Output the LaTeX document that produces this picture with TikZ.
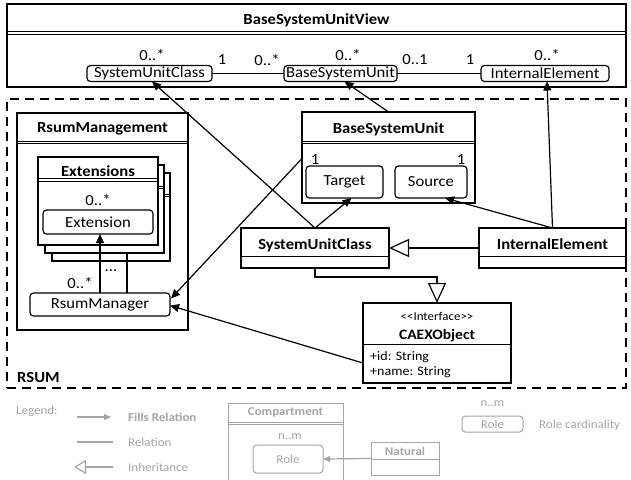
\documentclass[tikz,border=0pt]{standalone}
\usepackage{fontspec}
\setmainfont{Carlito}[FakeStretch=1.08]
\usetikzlibrary{arrows.meta,fit,calc}
\definecolor{lg}{RGB}{165,165,165}
\begin{document}
\begin{tikzpicture}[x=1pt,y=-1pt,
  font=\fontsize{15.4}{18}\selectfont,
  ln/.style={line width=1.2pt},
  sepl/.style={line width=1pt},
  box/.style={draw, line width=1.3pt, fill=white, inner sep=0pt, outer sep=0pt},
  rsumbox/.style={draw, line width=2pt, dash pattern=on 9pt off 6pt, inner sep=0pt, outer sep=0pt},
  role/.style={draw, rounded corners=3.5pt, line width=1.2pt, fill=white, inner sep=0pt, outer sep=0pt},
  lbl/.style={inner sep=0pt},
  ttl/.style={font=\fontsize{15.4}{18}\selectfont\bfseries, inner sep=0pt, text depth=0pt},
  fills/.style={line width=1.2pt, -{Triangle[length=9pt,width=8pt]}},
  inh/.style={line width=1.2pt, -{Triangle[open,length=20pt,width=18pt,fill=white]}},
  lgt/.style={inner sep=0pt, text=lg, font=\fontsize{12}{14}\selectfont, anchor=west},
  lgb/.style={lgt, font=\fontsize{12}{14}\selectfont\bfseries},
  lgbox/.style={draw=lg, line width=1pt, fill=white, inner sep=0pt, outer sep=0pt},
  lgrole/.style={draw=lg, rounded corners=3.5pt, line width=1pt, fill=white, inner sep=0pt, outer sep=0pt, text=lg, font=\fontsize{12}{14}\selectfont},
]
\useasboundingbox (0,0) rectangle (631,479);
\clip (0,0) rectangle (631,479);
\fill[white] (0,0) rectangle (631,479);

% ---------- BaseSystemUnitView ----------
\node[box, fit={(7,4) (626,87)}] (view) {};
\node[ttl] (viewt) at (316.5,19) {BaseSystemUnitView};
\draw[sepl] (7,31.7) -- (626,31.7);
\draw[sepl] (7,34.5) -- (626,34.5);
\node[role, minimum width=125pt, minimum height=16pt] (vsuc) at (149.5,73.5) {SystemUnitClass};
\node[role, minimum width=113pt, minimum height=16pt] (vbsu) at (340.5,73.5) {BaseSystemUnit};
\node[role, minimum width=128pt, minimum height=16pt] (vie) at (545,73.5) {InternalElement};
\node[lbl] (l1) at (152,55) {0..*};
\node[lbl] (l2) at (222,60) {1};
\node[lbl] (l3) at (267,60) {0..*};
\node[lbl] (l4) at (348,55) {0..*};
\node[lbl] (l5) at (415,60) {0..1};
\node[lbl] (l6) at (470,60) {1};
\node[lbl] (l7) at (547,55) {0..*};
\draw[ln] (vsuc.east) -- (vbsu.west);
\draw[ln] (vbsu.east) -- (vie.west);

% ---------- RSUM ----------
\node[rsumbox, fit={(7,99) (626,388)}] (rsum) {};
\node[ttl, anchor=west] (rsuml) at (17,377) {RSUM};

% RsumManagement
\node[box, fit={(17,113) (188,330)}] (rmg) {};
\node[ttl] (rmgt) at (102.5,128) {RsumManagement};
\draw[sepl] (17,141) -- (188,141);
\draw[sepl] (17,143.8) -- (188,143.8);

% Extensions stack
\node[box, fit={(52,173) (170,261)}] (ext3) {};
\draw[sepl] (52,194) -- (170,194);
\draw[sepl] (52,196.8) -- (170,196.8);
\node[box, fit={(45,165) (164,253)}] (ext2) {};
\draw[sepl] (45,186) -- (164,186);
\draw[sepl] (45,188.8) -- (164,188.8);
\node[box, fit={(38,157) (158,245)}] (ext1) {};
\draw[sepl] (38,178.3) -- (158,178.3);
\draw[sepl] (38,181.1) -- (158,181.1);
\node[ttl] (ext1t) at (98,171) {Extensions};
\node[lbl] (l8) at (98,200) {0..*};
\node[role, minimum width=110pt, minimum height=24pt] (extn) at (98,222) {Extension};

\node[role, minimum width=140pt, minimum height=23pt] (rm) at (100,304.5) {RsumManager};
\node[lbl] (l9) at (80,283) {0..*};
\node[lbl] (l10) at (111,271) {...};
\draw[fills] (rm.north) -- (rm.north |- extn.south);
\coordinate (mx) at ($(rm.north)+(27,0)$);
\draw[ln] (mx) -- (mx |- ext2.south);

% BaseSystemUnit (RSUM)
\node[box, fit={(302,112) (475,203)}] (rbsu) {};
\node[ttl] (rbsut) at (388.5,128) {BaseSystemUnit};
\draw[sepl] (302,141) -- (475,141);
\draw[sepl] (302,143.8) -- (475,143.8);
\node[lbl] (l11) at (315,160) {1};
\node[lbl] (l12) at (461,160) {1};
\node[role, minimum width=77pt, minimum height=32pt] (target) at (344.5,182) {Target};
\node[role, minimum width=72pt, minimum height=32pt] (source) at (431,182) {Source};

% SystemUnitClass (RSUM)
\node[box, fit={(241,228) (389,268)}] (rsuc) {};
\node[ttl] (rsuct) at (315,244) {SystemUnitClass};
\draw[sepl] (241,256) -- (389,256);

% InternalElement (RSUM)
\node[box, fit={(479,228) (626,268)}] (rie) {};
\node[ttl] (riet) at (552.5,244) {InternalElement};
\draw[sepl] (479,256) -- (626,256);

% CAEXObject
\node[box, fit={(363,303) (511,383)}] (caex) {};
\node[lbl, font=\fontsize{12}{14}\selectfont] (caexs) at (437,316) {<\kern0pt<Interface>\kern0pt>};
\node[ttl, font=\fontsize{14.4}{17}\selectfont\bfseries] (caext) at (437,334) {CAEXObject};
\draw[sepl] (363,344) -- (511,344);
\node[lbl, anchor=west, font=\fontsize{13}{15}\selectfont] (attr1) at (370,357) {+id: String};
\node[lbl, anchor=west, font=\fontsize{13}{15}\selectfont] (attr2) at (370,372) {+name: String};

% ---------- connectors ----------
\draw[fills] (rsuc.north) -- ($(vsuc.south)+(2.5,0)$);
\draw[fills] (rsuc.north) -- ($(target.south)+(7,0)$);
\draw[fills] (rbsu.north) -- ($(vbsu.south)+(4,0)$);
\draw[fills] (rie.north) -- ($(vie.south)+(2,0)$);
\draw[fills] (rie.north) -- ($(source.south)+(14,0)$);
\draw[inh] (rie.west) -- (rsuc.east);
\draw[inh] (rsuc.south) -- ++(0,9) -| (caex.north);
\draw[fills] ($(rbsu.west)+(0,1)$) -- ($(rm.east)+(1,-6)$);
\draw[fills] ($(caex.south west)+(0,-20)$) -- ($(rm.east)+(0,1)$);

% ---------- Legend ----------
\node[lgt] (lgl) at (16,411) {Legend:};
\coordinate (fa1) at (77,417);
\coordinate (fa2) at (111,417);
\draw[draw=lg, line width=1.2pt, -{Triangle[length=7pt,width=6pt]}] (fa1) -- (fa2);
\node[lgb] (lgf) at (128,417) {Fills Relation};
\coordinate (ra1) at (77,442);
\coordinate (ra2) at (113,442);
\draw[draw=lg, line width=1.2pt] (ra1) -- (ra2);
\node[lgt] (lgr) at (128,442) {Relation};
\coordinate (ia1) at (113,467);
\coordinate (ia2) at (74,467);
\draw[draw=lg, line width=1.2pt, -{Triangle[open,length=12pt,width=14pt,fill=white]}] (ia1) -- (ia2);
\node[lgt] (lgi) at (128,467) {Inheritance};

\node[lgbox, fit={(228,403) (343,485)}] (comp) {};
\node[lgb, anchor=center] (compt) at (285.5,413) {Compartment};
\draw[draw=lg, line width=0.9pt] (228,422) -- (343,422);
\draw[draw=lg, line width=0.9pt] (228,424.6) -- (343,424.6);
\node[lgt, anchor=center] (lnm1) at (290,437) {n..m};
\node[lgrole, minimum width=70pt, minimum height=28pt] (lrole) at (288,459) {Role};
\node[lgbox, fit={(371,442) (439,475)}] (nat) {};
\node[lgb, anchor=center] (natt) at (405,451) {Natural};
\draw[draw=lg, line width=0.9pt] (371,459) -- (439,459);
\draw[draw=lg, line width=1.2pt, -{Triangle[length=7pt,width=6pt]}] (nat.west) -- (lrole.east);

\node[lgt, anchor=center] (lnm2) at (492.5,404) {n..m};
\node[lgrole, minimum width=61pt, minimum height=16pt] (lrole2) at (492.5,424) {Role};
\node[lgt] (lrc) at (539,425) {Role cardinality};
\end{tikzpicture}
\end{document}
